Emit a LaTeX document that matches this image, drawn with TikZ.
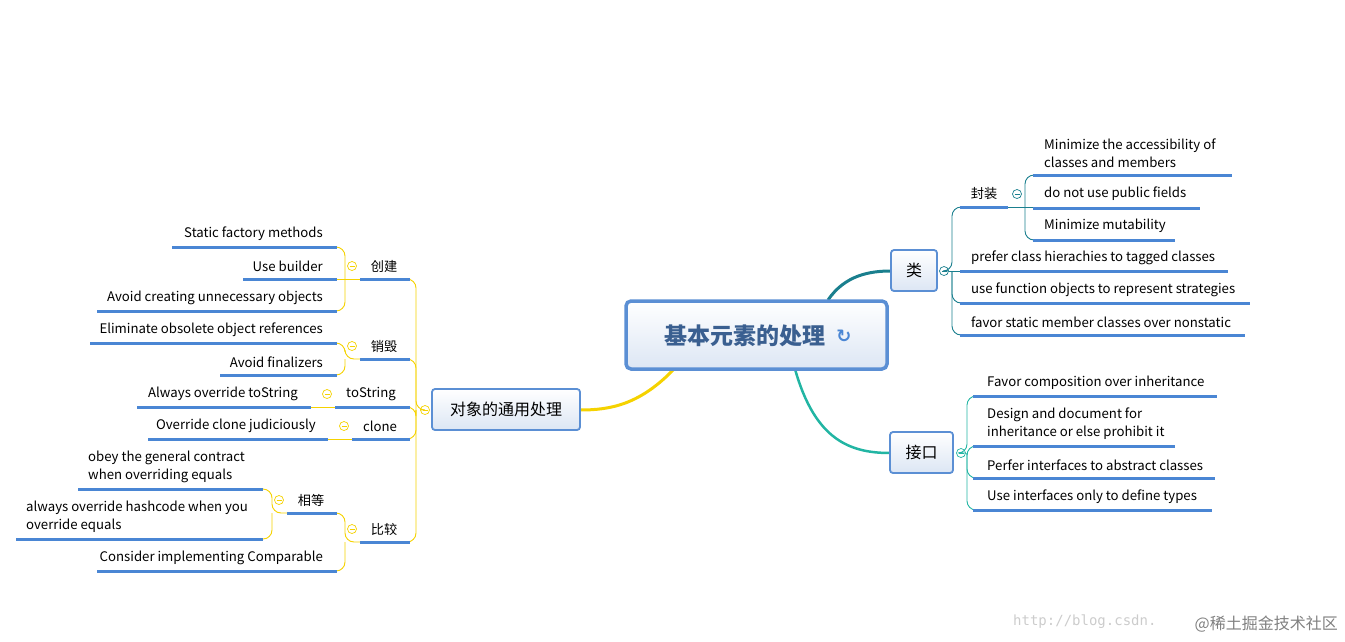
\documentclass[tikz,border=0pt]{standalone}
\usepackage{fontspec}
\setmainfont{Noto Sans CJK SC}
\newfontfamily\monof{DejaVu Sans Mono}
\newfontfamily\symf{DejaVu Sans}
\definecolor{ulblue}{HTML}{4A86D4}
\definecolor{boxborder}{HTML}{5B8FD4}
\definecolor{boxfill}{HTML}{DCE6F4}
\definecolor{yel}{HTML}{F5D200}
\definecolor{tealA}{HTML}{1A7F8E}
\definecolor{tealB}{HTML}{22B5A3}
\definecolor{titleblue}{HTML}{3A5F90}
\tikzset{
  box/.style={draw=boxborder,line width=1.8pt,rounded corners=3pt,top color=white,bottom color=boxfill,inner sep=0pt},
  txt/.style={font=\fontsize{13.2pt}{18pt}\selectfont,inner sep=0pt,align=left},
  ul/.style={ulblue,line width=3pt},
  br/.style={line width=0.9pt,rounded corners=9pt},
  tog/.style={circle,draw,fill=white,line width=0.7pt,minimum size=9pt,inner sep=0pt,path picture={\draw[line width=0.6pt] ([xshift=-2.5pt]path picture bounding box.center)--([xshift=2.5pt]path picture bounding box.center);}},
}
\begin{document}
\begin{tikzpicture}[x=1pt,y=-1pt]
\useasboundingbox (0,0) rectangle (1345,641);
% ---------- main branches
\draw[yel,line width=3pt] (675,368) .. controls (640,405) and (610,410) .. (580,410);
\draw[tealA,line width=3pt] (828,300) .. controls (845,275) and (870,271) .. (891,271);
\draw[tealB,line width=2.5pt] (795,369) .. controls (815,440) and (850,453) .. (890,453);
% ---------- center
\node[box,line width=3.5pt,minimum width=261pt,minimum height=68pt,rounded corners=5pt] (center) at (756.5,335) {};
\node[font=\fontsize{23pt}{26pt}\selectfont\bfseries,text=titleblue] (title) at (745,336) {基本元素的处理};
\node[font=\symf\fontsize{18pt}{18pt}\selectfont\bfseries,text=ulblue] (ico) at (844,336) {↻};
% ---------- 类
\node[box,minimum width=46pt,minimum height=41pt] (lei) at (914,270.5) {};
\node[font=\fontsize{16pt}{18pt}\selectfont] at (lei) {类};
\node[tog,draw=tealA] (tlei) at (944,271) {};
\begin{scope}[tealA]
\draw[br] (tlei.east) -- (952,271) -- (952,207) -- (960,207);
\draw[br] (tlei.east) -- (960,271);
\draw[br] (952,271) -- (952,335) -- (960,335);
\draw[br] (952,271) -- (952,303) -- (960,303);
\end{scope}
\draw[ul] (960,207) -- (1008,207);
\node[txt] (fz) at (984,194) {封装};
\node[tog,draw=tealA] (tfz) at (1017,194) {};
\begin{scope}[tealA]
\draw[br] (1008,207) -- (1033,207);
\draw[br] (1025,207) -- (1025,175) -- (1033,175);
\draw[br] (1025,207) -- (1025,240) -- (1033,240);
\end{scope}
\draw[ul] (1033,175) -- (1232,175);
\node[txt,anchor=west] (a1) at (1044,153) {Minimize the accessibility of\\classes and members};
\draw[ul] (1033,208) -- (1200,208);
\node[txt,anchor=west] (a2) at (1044,194) {do not use public fields};
\draw[ul] (1033,240) -- (1175,240);
\node[txt,anchor=west] (a3) at (1044,226) {Minimize mutability};
\draw[ul] (960,271) -- (1228,271);
\node[txt,anchor=west] (a4) at (971,258) {prefer class hierachies to tagged classes};
\draw[ul] (960,303) -- (1250,303);
\node[txt,anchor=west] (a5) at (971,290) {use function objects to represent strategies};
\draw[ul] (960,335) -- (1245,335);
\node[txt,anchor=west] (a6) at (971,322) {favor static member classes over nonstatic};
% ---------- 接口
\node[box,minimum width=63pt,minimum height=41pt] (jk) at (921.5,452.5) {};
\node[font=\fontsize{16pt}{18pt}\selectfont] at (jk) {接口};
\node[tog,draw=tealB] (tjk) at (961,453) {};
\begin{scope}[tealB]
\draw[br] (tjk.east) -- (967,453) -- (967,396) -- (973,396);
\draw[br] (967,453) -- (967,446) -- (973,446);
\draw[br] (967,453) -- (967,478) -- (973,478);
\draw[br] (967,453) -- (967,510) -- (973,510);
\end{scope}
\draw[ul] (973,396) -- (1217,396);
\node[txt,anchor=west] (b1) at (987,383) {Favor composition over inheritance};
\draw[ul] (973,446) -- (1175,446);
\node[txt,anchor=west] (b2) at (987,424) {Design and document for\\inheritance or else prohibit it};
\draw[ul] (973,478) -- (1215,478);
\node[txt,anchor=west] (b3) at (987,465) {Perfer interfaces to abstract classes};
\draw[ul] (973,510) -- (1212,510);
\node[txt,anchor=west] (b4) at (987,497) {Use interfaces only to define types};
% ---------- 对象的通用处理
\node[box,minimum width=148pt,minimum height=41pt] (dx) at (506,409.5) {};
\node[font=\fontsize{16pt}{18pt}\selectfont] at (dx) {对象的通用处理};
\node[tog,draw=yel] (tdx) at (425,410) {};
\begin{scope}[yel]
\draw[br] (tdx.west) -- (416,410) -- (416,279) -- (410,279);
\draw[br] (416,410) -- (416,359) -- (410,359);
\draw[br] (416,410) -- (416,407) -- (410,407);
\draw[br] (416,410) -- (416,439) -- (410,439);
\draw[br] (416,410) -- (416,542) -- (410,542);
\end{scope}
% 创建
\draw[ul] (360,279) -- (410,279);
\node[txt] (cj) at (384,266) {创建};
\node[tog,draw=yel] (tcj) at (352,266) {};
\begin{scope}[yel]
\draw[br] (360,279) -- (337,279);
\draw[br] (345,279) -- (345,247) -- (337,247);
\draw[br] (345,279) -- (345,311) -- (337,311);
\end{scope}
\draw[ul] (172,247) -- (337,247);
\node[txt,anchor=east] (c1) at (323,234) {Static factory methods};
\draw[ul] (243,279) -- (337,279);
\node[txt,anchor=east] (c2) at (323,266) {Use builder};
\draw[ul] (97,311) -- (337,311);
\node[txt,anchor=east] (c3) at (323,298) {Avoid creating unnecessary objects};
% 销毁
\draw[ul] (360,359) -- (410,359);
\node[txt] (xh) at (384,346) {销毁};
\node[tog,draw=yel] (txh) at (352,346) {};
\begin{scope}[yel]
\draw[br] (360,359) -- (345,359) -- (345,343) -- (337,343);
\draw[br] (345,359) -- (345,375) -- (337,375);
\end{scope}
\draw[ul] (90,343) -- (337,343);
\node[txt,anchor=east] (d1) at (323,330) {Eliminate obsolete object references};
\draw[ul] (220,375) -- (337,375);
\node[txt,anchor=east] (d2) at (323,362) {Avoid finalizers};
% toString
\draw[ul] (335,407) -- (410,407);
\node[txt] (ts) at (371,394) {toString};
\node[tog,draw=yel] (tts) at (327,394) {};
\draw[yel,line width=0.9pt] (311,407) -- (335,407);
\draw[ul] (137,407) -- (311,407);
\node[txt,anchor=east] (e1) at (298,394) {Always override toString};
% clone
\draw[ul] (352,439) -- (410,439);
\node[txt] (cl) at (380,426) {clone};
\node[tog,draw=yel] (tcl) at (344,426) {};
\draw[yel,line width=0.9pt] (328,439) -- (352,439);
\draw[ul] (148,439) -- (328,439);
\node[txt,anchor=east] (f1) at (316,426) {Override clone judiciously};
% 比较
\draw[ul] (360,542) -- (410,542);
\node[txt] (bj) at (384,529) {比较};
\node[tog,draw=yel] (tbj) at (352,529) {};
\begin{scope}[yel]
\draw[br] (360,542) -- (345,542) -- (345,513) -- (337,513);
\draw[br] (345,542) -- (345,571) -- (337,571);
\end{scope}
\draw[ul] (287,513) -- (337,513);
\node[txt] (xd) at (311,500) {相等};
\node[tog,draw=yel] (txd) at (279,500) {};
\begin{scope}[yel]
\draw[br] (287,513) -- (272,513) -- (272,489) -- (263,489);
\draw[br] (272,513) -- (272,539) -- (263,539);
\end{scope}
\draw[ul] (78,489) -- (263,489);
\node[txt,anchor=west] (g1) at (88,467) {obey the general contract\\when overriding equals};
\draw[ul] (16,539) -- (263,539);
\node[txt,anchor=west] (g2) at (26,517) {always override hashcode when you\\override equals};
\draw[ul] (97,571) -- (337,571);
\node[txt,anchor=east] (h1) at (323,558) {Consider implementing Comparable};
% watermark
\node[anchor=west,inner sep=0pt,font=\monof\fontsize{14pt}{14pt}\selectfont,text=black!20] (wm1) at (1013,622) {http://blog.csdn.};
\node[anchor=east,inner sep=0pt,font=\fontsize{16pt}{16pt}\selectfont,text=black!50] (wm2) at (1338,624) {@稀土掘金技术社区};
\end{tikzpicture}
\end{document}
